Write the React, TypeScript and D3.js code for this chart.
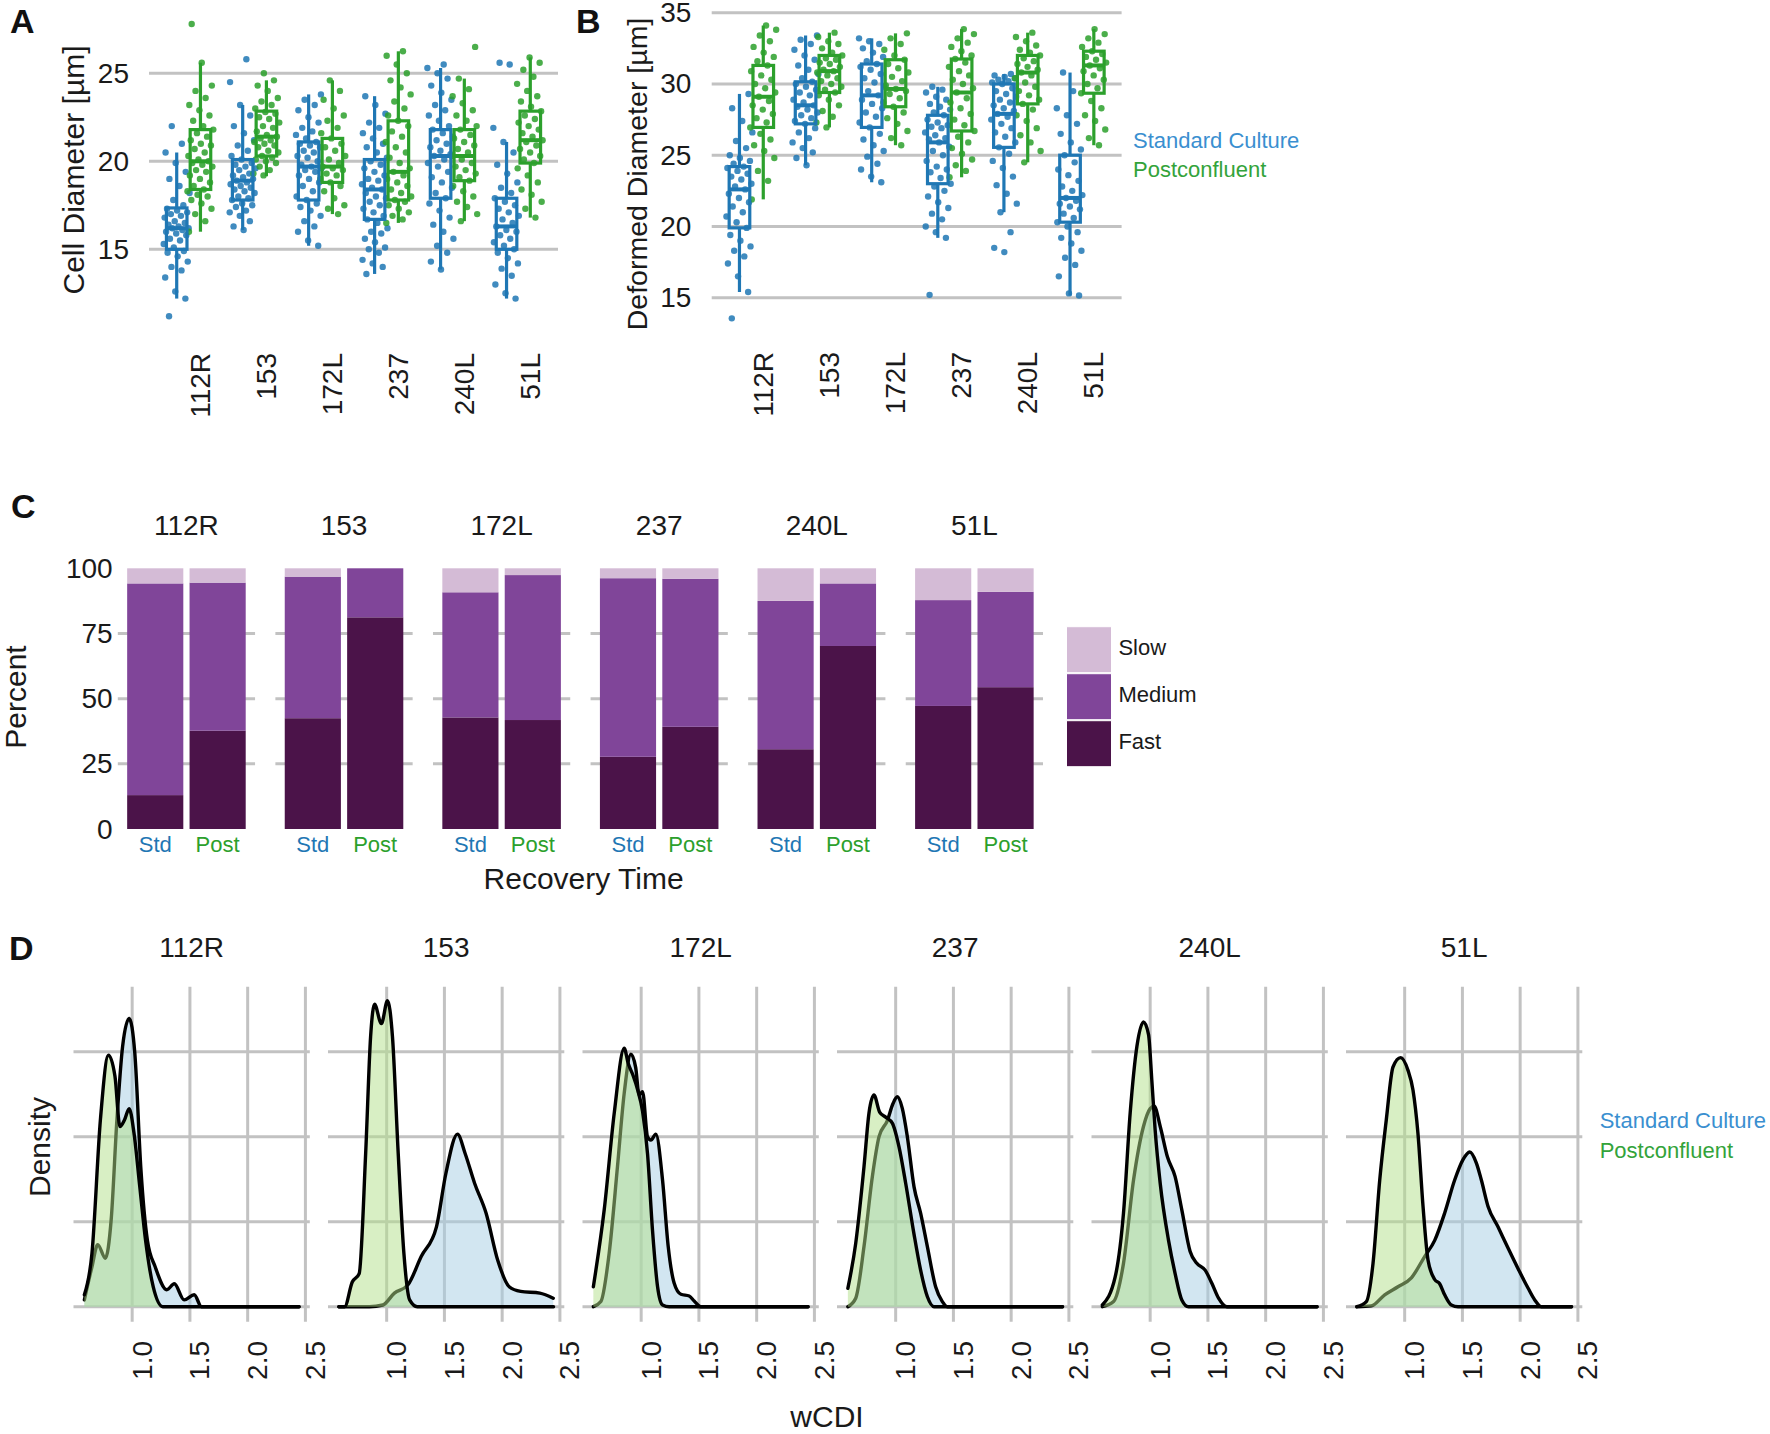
import React from "react";
import * as d3 from "d3";

const FONT = "'Liberation Sans', Arial, Helvetica, sans-serif";
const BLUE = "#1f77b4";
const GREEN = "#2ca02c";
const GRID = "#c2c2c2";

const cultures = ["112R", "153", "172L", "237", "240L", "51L"];
const groups = ["Std", "Post"];

// ---- Panel A: cell diameter (µm), jittered observations ----
const cellStd: number[][] = [
  [11.2,12.2,12.6,13.4,13.8,14.0,14.3,14.6,14.8,14.9,15.1,15.3,15.5,15.6,15.8,15.9,16.0,16.1,16.2,16.2,16.3,16.4,16.5,16.6,16.8,16.9,17.0,17.1,17.2,17.3,17.5,17.8,18.2,18.6,19.0,19.4,19.9,20.5,21.0,22.0],
  [16.1,16.3,16.6,16.9,17.1,17.2,17.4,17.5,17.6,17.8,17.9,18.0,18.2,18.3,18.4,18.5,18.6,18.7,18.8,18.9,19.0,19.1,19.2,19.3,19.5,19.6,19.7,19.8,19.9,20.1,20.3,20.6,20.9,21.2,21.6,22.0,22.6,23.2,24.5,25.8],
  [15.2,15.5,16.0,16.3,16.6,16.9,17.2,17.4,17.6,17.8,18.0,18.3,18.6,18.8,19.0,19.2,19.4,19.5,19.6,19.7,19.8,20.0,20.2,20.3,20.5,20.6,20.8,20.9,21.0,21.1,21.3,21.5,21.7,21.9,22.2,22.5,22.9,23.2,23.5,23.8],
  [13.6,14.0,14.2,14.4,14.8,15.0,15.1,15.4,15.6,15.9,16.0,16.2,16.5,16.7,16.9,17.1,17.3,17.5,17.7,17.9,18.0,18.2,18.4,18.5,18.7,18.9,19.0,19.2,19.4,19.6,19.8,20.0,20.2,20.5,20.8,21.0,21.3,21.6,21.9,22.2,22.7,23.2,23.7],
  [13.85,14.3,14.8,15.2,15.6,16.0,16.4,16.8,17.2,17.6,17.9,18.2,18.5,18.8,19.1,19.4,19.7,19.9,20.1,20.3,20.4,20.6,20.8,21.0,21.2,21.4,21.6,21.8,22.0,22.3,22.6,22.9,23.2,23.5,23.9,24.3,24.7,25.0,25.3,25.5],
  [12.2,12.5,13.0,13.5,13.9,14.2,14.5,14.8,15.0,15.2,15.4,15.6,15.8,16.0,16.1,16.3,16.5,16.7,16.9,17.1,17.3,17.5,17.7,17.9,18.2,18.5,18.8,19.3,19.8,20.5,21.1,21.9,25.5,25.6],
];
const cellPost: number[][] = [
  [16.0,16.6,17.0,17.3,17.6,17.8,18.0,18.1,18.3,18.4,18.6,18.8,19.0,19.2,19.4,19.5,19.7,19.8,19.9,20.0,20.1,20.3,20.5,20.7,20.9,21.0,21.2,21.4,21.6,21.8,22.0,22.3,22.6,22.9,23.2,23.6,24.0,24.3,25.6,27.8],
  [19.2,19.3,19.5,19.7,19.9,20.0,20.1,20.2,20.3,20.5,20.6,20.8,20.9,21.0,21.1,21.2,21.3,21.4,21.5,21.7,21.9,22.0,22.2,22.4,22.5,22.7,22.8,23.0,23.2,23.4,23.6,24.0,24.3,24.6,25.0],
  [17.0,17.3,17.5,17.9,18.3,18.6,18.8,19.0,19.2,19.3,19.5,19.6,19.7,19.9,20.1,20.3,20.6,20.8,21.0,21.3,21.6,21.9,22.3,22.6,23.0,23.5,24.0,24.6],
  [16.5,16.7,16.9,17.1,17.3,17.5,17.7,17.8,18.0,18.2,18.4,18.6,18.8,19.0,19.2,19.4,19.6,19.9,20.2,20.5,20.8,21.1,21.4,21.7,22.0,22.3,22.6,23.0,23.4,23.8,24.2,24.6,25.0,25.5,26.0,26.25],
  [16.6,17.0,17.4,17.7,18.0,18.3,18.6,18.9,19.1,19.3,19.5,19.7,19.9,20.1,20.3,20.5,20.7,20.9,21.1,21.3,21.5,21.8,22.0,22.3,22.6,22.9,23.3,23.7,24.1,24.7,26.5],
  [16.8,17.3,17.7,18.1,18.4,18.8,19.2,19.6,19.9,20.1,20.3,20.5,20.7,20.9,21.1,21.2,21.4,21.6,21.8,22.0,22.2,22.4,22.6,22.85,23.1,23.4,23.7,24.0,24.4,24.8,25.2,25.6,25.9],
];
// box stats [lower whisker, q1, median, q3, upper whisker]
const cellBoxStd: number[][] = [
  [12.2,15.0,16.2,17.35,20.5],[16.1,17.8,18.9,20.1,23.2],[15.2,17.8,19.7,21.1,23.8],
  [13.6,16.7,18.4,20.1,23.7],[13.85,17.9,20.3,21.8,25.3],[12.2,15.0,16.3,17.9,21.1],
];
const cellBoxPost: number[][] = [
  [16.0,18.4,20.0,21.8,25.6],[19.15,20.3,21.4,22.85,24.6],[17.0,18.8,19.7,21.3,24.6],
  [16.5,17.8,19.4,22.3,26.25],[16.6,18.9,20.3,21.8,24.7],[16.8,19.9,21.2,22.85,25.9],
];
const cellTicks = [15, 20, 25];

// ---- Panel B: deformed diameter (µm) ----
const defStd: number[][] = [
  [13.55,15.4,16.5,17.4,17.9,18.3,18.6,19.0,19.4,19.9,20.3,20.7,21.0,21.4,21.7,22.0,22.3,22.6,22.8,23.0,23.3,23.5,23.7,23.9,24.1,24.2,24.4,24.6,24.8,25.0,25.5,26.0,26.6,27.4,28.3,29.3],
  [24.3,24.8,25.2,25.5,25.9,26.2,26.6,26.9,27.2,27.4,27.6,27.8,28.0,28.2,28.4,28.5,28.7,28.9,29.2,29.4,29.6,29.8,30.0,30.15,30.4,30.7,31.0,31.3,31.7,32.0,32.4,32.8,33.1,33.4],
  [23.1,23.5,24.0,24.4,24.9,25.3,25.7,26.1,26.5,26.95,27.3,27.7,28.0,28.3,28.6,28.9,29.2,29.5,29.8,30.1,30.4,30.7,31.0,31.2,31.4,31.6,31.9,32.2,32.5,32.8,33.0,33.2],
  [15.2,19.2,19.6,20.0,20.5,20.9,21.3,21.7,22.1,22.5,22.8,23.0,23.4,23.8,24.0,24.2,24.6,25.0,25.3,25.6,25.9,26.1,26.2,26.4,26.6,26.9,27.0,27.1,27.3,27.5,27.8,28.0,28.2,28.4,28.6,28.9,29.1,29.4,29.6,29.8],
  [18.2,18.5,19.6,21.0,21.6,22.3,22.9,23.5,24.1,24.6,25.1,25.55,25.9,26.3,26.6,26.9,27.2,27.5,27.7,27.9,28.1,28.3,28.5,28.7,28.9,29.1,29.3,29.5,29.7,30.0,30.1,30.2,30.3,30.4,30.5,30.6,30.7],
  [15.15,15.3,16.5,17.3,17.8,18.3,18.8,19.2,19.6,20.0,20.3,20.6,20.9,21.2,21.4,21.6,21.8,22.0,22.2,22.5,22.8,23.2,23.6,24.0,24.5,25.0,25.4,25.9,26.5,27.2,27.8,28.3,29.5,30.8],
];
const defPost: number[][] = [
  [21.9,23.2,23.9,24.8,25.3,25.7,26.1,26.5,26.95,27.3,27.6,27.9,28.2,28.5,28.8,29.1,29.4,29.7,30.0,30.3,30.6,30.9,31.3,31.6,31.9,32.2,32.6,33.0,33.4,33.8,34.1],
  [26.95,27.3,27.7,28.1,28.5,28.9,29.2,29.4,29.6,29.8,30.0,30.2,30.4,30.6,30.8,30.9,31.0,31.2,31.4,31.5,31.7,31.8,32.0,32.2,32.5,32.8,33.0,33.3,33.6],
  [25.7,26.2,26.7,27.2,27.6,28.0,28.4,28.7,29.0,29.3,29.5,29.65,29.9,30.2,30.5,30.8,31.1,31.4,31.7,32.0,32.4,32.8,33.2,33.55],
  [23.45,23.9,24.3,24.7,25.1,25.5,25.9,26.3,26.7,27.1,27.5,27.9,28.3,28.7,29.0,29.4,29.7,30.0,30.3,30.6,30.9,31.2,31.5,31.75,32.0,32.3,32.6,32.9,33.2,33.5,33.85],
  [24.5,25.3,25.9,26.4,26.9,27.4,27.8,28.2,28.6,28.9,29.2,29.5,29.8,30.1,30.4,30.6,30.8,31.0,31.2,31.4,31.6,31.8,32.0,32.2,32.4,32.7,33.0,33.3,33.6],
  [25.7,26.2,26.8,27.4,27.8,28.3,28.8,29.35,29.7,30.0,30.3,30.6,30.9,31.1,31.3,31.5,31.7,31.9,32.1,32.3,32.6,32.9,33.2,33.5,33.85],
];
const defBoxStd: number[][] = [
  [15.4,19.9,22.6,24.2,29.3],[24.3,27.2,28.5,30.15,33.4],[23.1,26.95,29.2,31.4,33.2],
  [19.2,23.0,25.9,27.8,29.8],[21.0,25.55,27.9,30.0,30.7],[15.15,20.3,22.0,25.0,30.8],
];
const defBoxPost: number[][] = [
  [21.9,26.95,29.1,31.3,34.1],[26.95,29.4,30.9,32.0,33.6],[25.7,28.4,29.65,31.7,33.55],
  [23.45,26.7,29.4,31.75,33.85],[24.5,28.6,30.8,32.0,33.6],[25.7,29.35,31.3,32.3,33.85],
];
const defTicks = [15, 20, 25, 30, 35];

// ---- Panel C: recovery time (%) ----
const speedKeys = ["fast", "medium", "slow"];
const speedLabels = ["Slow", "Medium", "Fast"];
const fastStd = [13.0, 42.5, 42.8, 27.7, 30.6, 47.2];
const fastPost = [37.7, 81.2, 41.8, 39.2, 70.2, 54.4];
const mediumStd = [81.2, 54.3, 48.0, 68.5, 56.9, 40.6];
const mediumPost = [56.8, 18.8, 55.6, 56.8, 24.0, 36.6];
const slowStd = [5.8, 3.2, 9.2, 3.8, 12.5, 12.2];
const slowPost = [5.5, 0.0, 2.6, 4.0, 5.8, 9.0];
const pctTicks = [0, 25, 50, 75, 100];
const speedColors: Record<string, string> = { slow: "#d4bbd6", medium: "#804599", fast: "#4b1349" };

// ---- Panel D: wCDI densities [wCDI, density] ----
const densStd: [number, number][][] = [
  [[0.586,0.08],[0.652,0.47],[0.702,0.73],[0.768,0.57],[0.818,1.02],[0.868,2.2],[0.917,3.06],[0.974,3.39],[1.023,2.98],[1.076,1.61],[1.132,0.78],[1.199,0.47],[1.30,0.2],[1.365,0.27],[1.45,0.08],[1.537,0.14],[1.6,0],[2.445,0]],
  [[0.586,0],[0.85,0],[0.967,0.02],[1.067,0.16],[1.183,0.255],[1.299,0.59],[1.431,0.94],[1.513,1.57],[1.613,2.03],[1.68,1.8],[1.762,1.45],[1.861,1.1],[1.961,0.55],[2.061,0.235],[2.16,0.18],[2.326,0.16],[2.442,0.1]],
  [[0.586,0],[0.651,0.06],[0.723,0.63],[0.795,1.65],[0.853,2.51],[0.911,2.97],[0.953,2.81],[0.982,2.49],[1.012,2.53],[1.055,2.0],[1.084,1.96],[1.127,2.03],[1.185,1.49],[1.234,0.71],[1.286,0.275],[1.344,0.146],[1.416,0.126],[1.459,0.067],[1.517,0],[2.445,0]],
  [[0.586,0],[0.654,0.1],[0.726,0.71],[0.798,1.53],[0.856,2.0],[0.928,2.19],[0.977,2.39],[1.014,2.47],[1.058,2.33],[1.101,2.0],[1.159,1.41],[1.216,1.1],[1.274,0.71],[1.346,0.235],[1.404,0.06],[1.447,0],[2.445,0]],
  [[0.586,0],[0.683,0.06],[0.769,0.51],[0.856,1.49],[0.942,2.12],[1.0,2.33],[1.035,2.36],[1.087,2.12],[1.15,1.76],[1.216,1.53],[1.274,1.14],[1.346,0.65],[1.404,0.51],[1.476,0.43],[1.534,0.275],[1.592,0.1],[1.664,0],[2.445,0]],
  [[0.586,0],[0.711,0.01],[0.827,0.14],[0.942,0.235],[1.058,0.34],[1.173,0.59],[1.26,0.78],[1.346,1.1],[1.433,1.49],[1.505,1.73],[1.563,1.82],[1.621,1.69],[1.664,1.49],[1.722,1.18],[1.808,0.94],[1.895,0.69],[1.981,0.45],[2.068,0.22],[2.126,0.08],[2.183,0],[2.445,0]],
];
const densPost: [number, number][][] = [
  [[0.586,0.14],[0.652,0.63],[0.725,2.2],[0.795,2.96],[0.851,2.71],[0.894,2.12],[0.934,2.2],[0.974,2.33],[1.016,2.04],[1.066,1.41],[1.116,0.78],[1.182,0.235],[1.265,0],[2.445,0]],
  [[0.586,0],[0.636,0],[0.702,0.29],[0.762,0.39],[0.818,1.8],[0.861,3.18],[0.895,3.56],[0.954,3.33],[1.007,3.6],[1.05,3.18],[1.1,1.8],[1.149,0.63],[1.199,0.08],[1.265,0],[2.445,0]],
  [[0.586,0.235],[0.68,1.14],[0.767,2.28],[0.853,3.04],[0.888,2.86],[0.93,2.72],[0.97,2.55],[1.012,2.3],[1.055,1.8],[1.098,0.9],[1.142,0.235],[1.185,0.02],[1.242,0],[2.445,0]],
  [[0.586,0.216],[0.654,0.745],[0.726,1.65],[0.769,2.28],[0.812,2.49],[0.861,2.29],[0.913,2.23],[0.971,2.16],[1.029,1.88],[1.087,1.45],[1.158,0.86],[1.216,0.43],[1.274,0.12],[1.332,0],[2.445,0]],
  [[0.586,0.02],[0.697,0.35],[0.769,1.1],[0.827,2.28],[0.885,3.06],[0.942,3.35],[0.986,3.2],[1.014,2.67],[1.043,2.08],[1.087,1.45],[1.159,0.78],[1.216,0.39],[1.274,0.08],[1.332,0],[2.445,0]],
  [[0.586,0],[0.668,0.06],[0.726,0.51],[0.784,1.49],[0.841,2.2],[0.899,2.82],[0.965,2.93],[1.029,2.78],[1.072,2.55],[1.115,2.04],[1.159,1.18],[1.202,0.55],[1.26,0.32],[1.303,0.27],[1.346,0.14],[1.404,0.02],[1.462,0],[2.445,0]],
];
const wcdiTicks = [1.0, 1.5, 2.0, 2.5];
const densTicks = [0, 1, 2, 3];

const legendNames = ["Standard Culture", "Postconfluent"];

function jitter(i: number, w: number) {
  return ((((i * 0.618034) + 0.21) % 1) - 0.5) * 2 * w;
}

type BoxPanelProps = {
  x0: number; x1: number; y0: number; y1: number; domain: [number, number];
  ticks: number[]; std: number[][]; post: number[][]; boxStd: number[][]; boxPost: number[][];
  labelTop: number; tickRight: number;
};

function BoxPanel(p: BoxPanelProps) {
  const xs = d3.scalePoint<string>().domain(cultures).range([p.x0, p.x1]).padding(0.6);
  const ys = d3.scaleLinear().domain(p.domain).range([p.y0, p.y1]);
  const step = xs.step();
  const half = step * 0.18;
  const jw = step * 0.2;
  const sets = [
    { vals: p.std, box: p.boxStd, color: BLUE, off: -half },
    { vals: p.post, box: p.boxPost, color: GREEN, off: half },
  ];
  return (
    <g>
      {p.ticks.map((t) => (
        <line key={"g" + t} x1={p.x0} x2={p.x1} y1={ys(t)} y2={ys(t)} stroke={GRID} strokeWidth={3} />
      ))}
      {sets.map((s, si) =>
        cultures.map((c, ci) => {
          const cx = (xs(c) as number) + s.off;
          return (
            <g key={si + c}>
              {s.vals[ci].map((v, i) => (
                <circle key={i} cx={cx + jitter(i + ci * 7 + si * 3, jw)} cy={ys(v)} r={3.2} fill={s.color} fillOpacity={0.85} />
              ))}
            </g>
          );
        })
      )}
      {sets.map((s, si) =>
        cultures.map((c, ci) => {
          const cx = (xs(c) as number) + s.off;
          const [lo, q1, md, q3, hi] = s.box[ci];
          return (
            <g key={"b" + si + c} stroke={s.color} fill="none">
              <line x1={cx} x2={cx} y1={ys(q3)} y2={ys(hi)} strokeWidth={3.2} />
              <line x1={cx} x2={cx} y1={ys(q1)} y2={ys(lo)} strokeWidth={3.2} />
              <rect x={cx - half + 1.6} width={2 * half - 3.2} y={ys(q3)} height={ys(q1) - ys(q3)} strokeWidth={3.2} />
              <line x1={cx - half + 1.6} x2={cx + half - 1.6} y1={ys(md)} y2={ys(md)} strokeWidth={4} />
            </g>
          );
        })
      )}
      {p.ticks.map((t) => (
        <text key={"t" + t} x={p.tickRight} y={ys(t)} textAnchor="end" dominantBaseline="central" fontSize={28} fill="#1a1a1a">{t}</text>
      ))}
      {cultures.map((c) => (
        <text key={"c" + c} transform={`translate(${(xs(c) as number) + 12},${p.labelTop}) rotate(-90)`} textAnchor="end" dominantBaseline="central" fontSize={28} fill="#1a1a1a">{c}</text>
      ))}
    </g>
  );
}

function PanelC() {
  const facet = d3.scaleBand<string>().domain(cultures).range([117.8, 1043]).paddingInner(0.129);
  const bx = d3.scaleBand<string>().domain(groups).range([0, facet.bandwidth()]).paddingInner(0.1).paddingOuter(0.15);
  const ys = d3.scaleLinear().domain([0, 100]).range([829, 568.3]);
  const rows = cultures.flatMap((c, i) => [
    { culture: c, group: "Std", fast: fastStd[i], medium: mediumStd[i], slow: slowStd[i] },
    { culture: c, group: "Post", fast: fastPost[i], medium: mediumPost[i], slow: slowPost[i] },
  ]);
  const stacked = d3.stack<any>().keys(speedKeys)(rows);
  return (
    <g>
      {cultures.map((c) => (
        <g key={"cg" + c}>
          {[25, 50, 75].map((t) => (
            <line key={t} x1={facet(c)} x2={(facet(c) as number) + facet.bandwidth()} y1={ys(t)} y2={ys(t)} stroke={GRID} strokeWidth={3} />
          ))}
          <text x={(facet(c) as number) + facet.bandwidth() / 2} y={535} textAnchor="middle" fontSize={28} fill="#1a1a1a">{c}</text>
        </g>
      ))}
      {stacked.map((layer) =>
        layer.map((seg, i) => {
          const r = rows[i];
          const x = (facet(r.culture) as number) + (bx(r.group) as number);
          return (
            <rect key={layer.key + i} x={x} width={bx.bandwidth()} y={ys(seg[1])} height={Math.max(0, ys(seg[0]) - ys(seg[1]))} fill={speedColors[layer.key]} />
          );
        })
      )}
      {rows.map((r, i) => (
        <text key={"gl" + i} x={(facet(r.culture) as number) + (bx(r.group) as number) + bx.bandwidth() / 2} y={852} textAnchor="middle" fontSize={22} fill={r.group === "Std" ? BLUE : GREEN}>{r.group}</text>
      ))}
      {pctTicks.map((t) => (
        <text key={"pt" + t} x={112.7} y={ys(t)} textAnchor="end" dominantBaseline="central" fontSize={28} fill="#1a1a1a">{t}</text>
      ))}
      <text transform="translate(26,697) rotate(-90)" textAnchor="middle" fontSize={30} fill="#1a1a1a">Percent</text>
      <text x={583.6} y={889} textAnchor="middle" fontSize={30} fill="#1a1a1a">Recovery Time</text>
      {speedLabels.map((lab, i) => {
        const top = 626.7 + i * 47;
        return (
          <g key={lab}>
            <rect x={1066.5} y={top} width={45} height={46} fill={speedColors[lab.toLowerCase()]} stroke="#ffffff" strokeWidth={1} />
            <text x={1118.4} y={top + 28.5} fontSize={22} fill="#1a1a1a">{lab}</text>
          </g>
        );
      })}
    </g>
  );
}

function PanelD() {
  const facet = d3.scaleBand<string>().domain(cultures).range([73.5, 1582.3]).paddingInner(0.0715);
  const xs = d3.scaleLinear().domain([0.492, 2.538]).range([0, facet.bandwidth()]);
  const ys = d3.scaleLinear().domain([0, 3]).range([1306.7, 1051.7]);
  const area = d3.area<[number, number]>().x((d) => xs(d[0])).y0(ys(0)).y1((d) => ys(d[1])).curve(d3.curveMonotoneX);
  const line = d3.line<[number, number]>().x((d) => xs(d[0])).y((d) => ys(d[1])).curve(d3.curveMonotoneX);
  return (
    <g>
      {cultures.map((c, ci) => {
        const left = facet(c) as number;
        return (
          <g key={"d" + c}>
            <text x={left + facet.bandwidth() / 2} y={957} textAnchor="middle" fontSize={28} fill="#1a1a1a">{c}</text>
            <g transform={`translate(${left},0)`}>
              {densTicks.map((t) => (
                <line key={"h" + t} x1={0} x2={facet.bandwidth()} y1={ys(t)} y2={ys(t)} stroke={GRID} strokeWidth={3} />
              ))}
              {wcdiTicks.map((t) => (
                <line key={"v" + t} x1={xs(t)} x2={xs(t)} y1={ys(3.765)} y2={ys(-0.176)} stroke={GRID} strokeWidth={3} />
              ))}
              <path d={area(densStd[ci]) as string} fill="#a6cee3" fillOpacity={0.5} />
              <path d={line(densStd[ci]) as string} fill="none" stroke="#000" strokeWidth={3.4} strokeLinejoin="round" strokeLinecap="round" />
              <path d={area(densPost[ci]) as string} fill="#b2df8a" fillOpacity={0.5} />
              <path d={line(densPost[ci]) as string} fill="none" stroke="#000" strokeWidth={3.4} strokeLinejoin="round" strokeLinecap="round" />
              {wcdiTicks.map((t) => (
                <text key={"l" + t} transform={`translate(${xs(t) + 10},1341) rotate(-90)`} textAnchor="end" dominantBaseline="central" fontSize={28} fill="#1a1a1a">{t.toFixed(1)}</text>
              ))}
            </g>
          </g>
        );
      })}
      <text transform="translate(50,1147) rotate(-90)" textAnchor="middle" fontSize={30} fill="#1a1a1a">Density</text>
      <text x={827} y={1427} textAnchor="middle" fontSize={30} fill="#1a1a1a">wCDI</text>
      <text x={1599.7} y={1128} fontSize={22} fill="#3a8fd0">{legendNames[0]}</text>
      <text x={1599.7} y={1158} fontSize={22} fill="#33a33a">{legendNames[1]}</text>
    </g>
  );
}

export default function App() {
  return (
    <div style={{ position: "absolute", left: 0, top: 0 }}>
      <svg width={1770} height={1434} viewBox="0 0 1770 1434" style={{ display: "block", background: "#fff" }} fontFamily={FONT}>
        <rect width={1770} height={1434} fill="#fff" />
        {/* Panel A */}
        <text x={10} y={33} fontSize={34} fontWeight="bold" fill="#111">A</text>
        <text transform="translate(84,170) rotate(-90)" textAnchor="middle" fontSize={30} fill="#1a1a1a">Cell Diameter [µm]</text>
        <BoxPanel x0={149} x1={558} y0={249.3} y1={73.3} domain={[15, 25]} ticks={cellTicks}
          std={cellStd} post={cellPost} boxStd={cellBoxStd} boxPost={cellBoxPost} labelTop={353} tickRight={129} />
        {/* Panel B */}
        <text x={576} y={33} fontSize={34} fontWeight="bold" fill="#111">B</text>
        <text transform="translate(647,174) rotate(-90)" textAnchor="middle" fontSize={28.5} fill="#1a1a1a">Deformed Diameter [µm]</text>
        <BoxPanel x0={711.7} x1={1121.6} y0={297.7} y1={12.7} domain={[15, 35]} ticks={defTicks}
          std={defStd} post={defPost} boxStd={defBoxStd} boxPost={defBoxPost} labelTop={352} tickRight={691.3} />
        <text x={1133} y={148} fontSize={22} fill="#3a8fd0">{legendNames[0]}</text>
        <text x={1133} y={176.5} fontSize={22} fill="#33a33a">{legendNames[1]}</text>
        {/* Panel C */}
        <text x={11} y={518} fontSize={34} fontWeight="bold" fill="#111">C</text>
        <PanelC />
        {/* Panel D */}
        <text x={9} y={960} fontSize={34} fontWeight="bold" fill="#111">D</text>
        <PanelD />
      </svg>
    </div>
  );
}
